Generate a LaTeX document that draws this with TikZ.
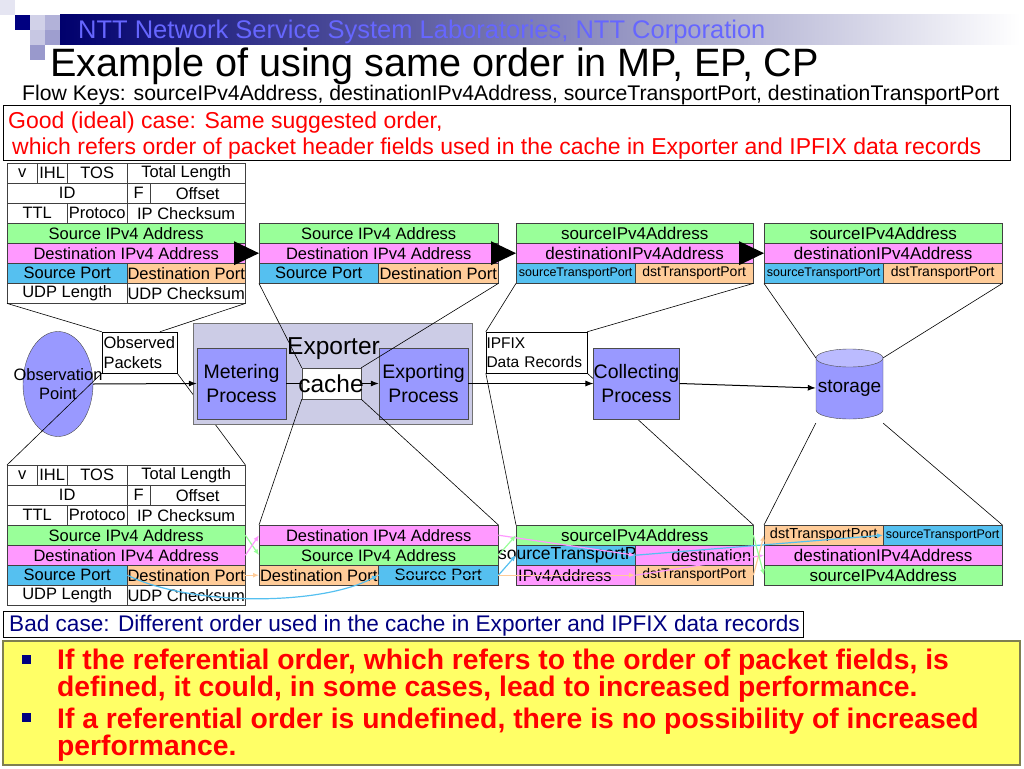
\documentclass[tikz,border=0pt]{standalone}
\usepackage{fontspec}
\setmainfont{Liberation Sans}
\usetikzlibrary{arrows.meta,positioning,calc,backgrounds,shapes.geometric}
\definecolor{grn}{HTML}{99FF99}
\definecolor{pnk}{HTML}{FF99FF}
\definecolor{blu}{HTML}{55C0F0}
\definecolor{org}{HTML}{FFCC99}
\definecolor{proc}{HTML}{9999FF}
\definecolor{procl}{HTML}{BBBBFF}
\definecolor{expbg}{HTML}{CCCCE6}
\definecolor{navy}{HTML}{000080}
\definecolor{ntt}{HTML}{6666FF}
\definecolor{ylw}{HTML}{FFFF66}
\definecolor{ybord}{HTML}{7F7F50}
\newcommand{\fsz}[1]{\fontsize{#1}{\fpeval{1.2*#1}}\selectfont}
\tikzset{
	cell/.style={draw=black!75, anchor=north west, minimum height=20, inner sep=0pt, font=\fsz{16.5}},
	procbox/.style={draw=black!70, fill=proc, align=center, inner sep=0pt, font=\fsz{19.5}},
	lbl/.style={inner sep=0pt, anchor=base west},
	flow/.style={-{Latex[length=8pt,width=6pt]}, line width=1pt},
	fieldmap/.style={-{Latex[length=6pt,width=5pt]}, line width=1.2pt},
	zoomln/.style={line width=0.6pt}
}
\begin{document}
\begin{tikzpicture}[x=1pt, y=-1pt]
	\useasboundingbox (0,0) rectangle (1024,768);
	% header
	\fill[navy!10] (0,0) rectangle (15,15);
	\fill[navy] (15,15) rectangle (30,30);
	\fill[navy!18] (30,15) rectangle (45,30);
	\fill[navy!30] (45,15) rectangle (60,30);
	\fill[navy!22] (30,30) rectangle (45,45);
	\fill[navy!38] (45,30) rectangle (60,45);
	\fill[navy!40] (30,45) rectangle (45,60);
	\shade[left color=navy!85!black, right color=white] (60,15) rectangle (1020,45);
	\node[lbl, text=ntt, font=\fsz{25.5}] (lab) at (78,38) {NTT Network Service System Laboratories, NTT Corporation};
	\node[lbl, font=\fsz{39.6}] (title) at (50,77) {Example of using same order in MP, EP, CP};
	\node[lbl, font=\fsz{21.2}] (keys) at (22,100) {Flow Keys: sourceIPv4Address, destinationIPv4Address, sourceTransportPort, destinationTransportPort};
	\draw (3,105) rectangle (1010,160);
	\node[lbl, text=red, font=\fsz{23}] (good1) at (8,128) {Good (ideal) case: Same suggested order,};
	\node[lbl, text=red, font=\fsz{23}] (good2) at (12,154) {which refers order of packet header fields used in the cache in Exporter and IPFIX data records};
	% packet headers
	\foreach \t/\y in {a/163, b/465}{
		\node[cell, minimum width=30] (v\t) at (7,\y) {v};
		\node[cell, minimum width=30] (ihl\t) at (37,\y) {IHL};
		\node[cell, minimum width=60] (tos\t) at (67,\y) {TOS};
		\node[cell, minimum width=118] (tl\t) at (127,\y) {Total Length};
		\node[cell, minimum width=120] (id\t) at (7,\y+20) {ID};
		\node[cell, minimum width=23] (f\t) at (127,\y+20) {F};
		\node[cell, minimum width=95] (off\t) at (150,\y+20) {Offset};
		\node[cell, minimum width=60] (ttl\t) at (7,\y+40) {TTL};
		\node[cell, minimum width=60] (prot\t) at (67,\y+40) {Protoco};
		\node[cell, minimum width=118] (chk\t) at (127,\y+40) {IP Checksum};
		\node[cell, fill=grn, minimum width=238] (sip\t) at (7,\y+60) {Source IPv4 Address};
		\node[cell, fill=pnk, minimum width=238] (dip\t) at (7,\y+80) {Destination IPv4 Address};
		\node[cell, fill=blu, minimum width=120] (sp\t) at (7,\y+100) {Source Port};
		\node[cell, fill=org, minimum width=118] (dp\t) at (127,\y+100) {Destination Port};
		\node[cell, minimum width=120] (udpl\t) at (7,\y+120) {UDP Length};
		\node[cell, minimum width=118] (udpc\t) at (127,\y+120) {UDP Checksum};
	}
	% good case records
	\node[cell, fill=grn, minimum width=239] (sip2) at (259,223) {Source IPv4 Address};
	\node[cell, fill=pnk, minimum width=239] (dip2) at (259,243) {Destination IPv4 Address};
	\node[cell, fill=blu, minimum width=119] (sp2) at (259,263) {Source Port};
	\node[cell, fill=org, minimum width=120] (dp2) at (378,263) {Destination Port};
	\node[cell, fill=grn, minimum width=237, font=\fsz{17}] (sip3) at (516,223) {sourceIPv4Address};
	\node[cell, fill=pnk, minimum width=237, font=\fsz{17}] (dip3) at (516,243) {destinationIPv4Address};
	\node[cell, fill=blu, minimum width=119, font=\fsz{12.5}] (sp3) at (516,263) {sourceTransportPort};
	\node[cell, fill=org, minimum width=118, font=\fsz{14}] (dp3) at (635,263) {dstTransportPort};
	\node[cell, fill=grn, minimum width=238, font=\fsz{17}] (sip4) at (764,223) {sourceIPv4Address};
	\node[cell, fill=pnk, minimum width=238, font=\fsz{17}] (dip4) at (764,243) {destinationIPv4Address};
	\node[cell, fill=blu, minimum width=119, font=\fsz{12.5}] (sp4) at (764,263) {sourceTransportPort};
	\node[cell, fill=org, minimum width=119, font=\fsz{14}] (dp4) at (883,263) {dstTransportPort};
	\foreach \n in {dip2, dip3, dip4}
		\fill ($(\n.west)+(-25,-12)$) -- (\n.west) -- ($(\n.west)+(-25,12)$) -- cycle;
	% bad case records
	\node[cell, fill=pnk, minimum width=239] (dip2b) at (259,525) {Destination IPv4 Address};
	\node[cell, fill=grn, minimum width=239] (sip2b) at (259,545) {Source IPv4 Address};
	\node[cell, fill=org, minimum width=119] (dp2b) at (259,565) {Destination Port};
	\node[cell, fill=blu, minimum width=120] (sp2b) at (378,565) {Source Port};
	\node[cell, fill=grn, minimum width=237, font=\fsz{17}] (sip3b) at (516,525) {sourceIPv4Address};
	\node[cell, fill=blu, minimum width=119] (stp3b) at (516,545) {};
	\node[lbl, anchor=west, font=\fsz{17.5}] (stptxt) at (498,555) {sourceTransportPort};
	\node[cell, fill=pnk, minimum width=118, text width=114, align=right, font=\fsz{16.5}] (dst3b) at (635,545) {destination};
	\node[cell, fill=pnk, minimum width=119, text width=115, align=left, font=\fsz{16.5}] (ip3b) at (516,565) {IPv4Address};
	\node[cell, fill=org, minimum width=118, font=\fsz{14}] (dp3b) at (635,565) {dstTransportPort};
	\node[cell, fill=org, minimum width=119, font=\fsz{14.5}] (dp4b) at (764,525) {dstTransportPort};
	\node[cell, fill=blu, minimum width=119, font=\fsz{12.5}] (sp4b) at (883,525) {sourceTransportPort};
	\node[cell, fill=pnk, minimum width=238, font=\fsz{17}] (dip4b) at (764,545) {destinationIPv4Address};
	\node[cell, fill=grn, minimum width=238, font=\fsz{17}] (sip4b) at (764,565) {sourceIPv4Address};
	% processes
	\node[draw=black!70, fill=proc, ellipse, minimum width=70, minimum height=105, inner sep=0pt] (op) at (58,384) {};
	\node[font=\fsz{16.5}, align=center, inner sep=0pt] (optxt) at (op.center) {Observation\\Point};
	\node[draw=black!55, fill=expbg, minimum width=279, minimum height=101, inner sep=0pt] (exp) at (332.5,373.5) {};
	\node[procbox, minimum width=89, minimum height=71] (mp) at (241.5,383.5) {Metering\\Process};
	\node[procbox, minimum width=89, minimum height=71] (xp) at (423.5,383.5) {Exporting\\Process};
	\draw[flow] (mp.east) -- (xp.west);
	\node[draw=black!70, fill=white, minimum width=59, minimum height=31, inner sep=0pt] (cache) at (331.5,383.5) {};
	\node[procbox, minimum width=85, minimum height=71] (cp) at (636.5,383.5) {Collecting\\Process};
	\filldraw[draw=black!70, fill=proc] (816,358) -- (816,410) arc[start angle=180, end angle=0, x radius=33.5, y radius=9] -- (883,358) -- cycle;
	\filldraw[draw=black!70, fill=procl] (849.5,358) ellipse[x radius=33.5, y radius=9];
	\node[minimum width=67, minimum height=70, inner sep=0pt, font=\fsz{19}] (stor) at (849.5,388) {storage};
	\draw[flow] (op.east) -- (mp.west);
	\draw[flow] (xp.east) -- (cp.west);
	\draw[flow] (cp.east) -- (stor.west);
	\node[draw, fill=white, minimum height=41, inner sep=1.5pt, text width=72, align=left, font=\fsz{16.5}] (obsp) at (139.5,352.5) {Observed\\Packets};
	\node[draw, fill=white, minimum height=41, inner sep=0.5pt, text width=100, align=left, font=\fsz{15.5}] (ipfx) at (536.5,352.5) {IPFIX\\Data Records};
	% zoom lines
	\begin{scope}[on background layer]
		\draw[zoomln] (obsp.south east) -- (tlb.north east);
		\draw[zoomln] (ipfx.south east) -- (sip3b.north east);
	\end{scope}
	\draw[zoomln] (udpla.south west) -- (obsp.north west);
	\draw[zoomln] (udpca.south east) -- ($(obsp.north west)!0.77!(obsp.north east)$);
	\draw[zoomln] (obsp.south west) -- (vb.north west);
	\draw[zoomln] (sp2.south west) -- (cache.north west);
	\draw[zoomln] (dp2.south east) -- (cache.north east);
	\draw[zoomln] (cache.south west) -- (dip2b.north west);
	\draw[zoomln] (cache.south east) -- (dip2b.north east);
	\draw[zoomln] (sp3.south west) -- (ipfx.north west);
	\draw[zoomln] (dp3.south east) -- (ipfx.north east);
	\draw[zoomln] (ipfx.south west) -- (sip3b.north west);
	\draw[zoomln] ($(stor.north west)+(0,5)$) -- (sp4.south west);
	\draw[zoomln] ($(stor.north east)+(0,5)$) -- (dp4.south east);
	\draw[zoomln] (stor.south west) -- (dp4b.north west);
	\draw[zoomln] (stor.south east) -- (sp4b.north east);
	\node[font=\fsz{24.5}, inner sep=0pt] (cachetxt) at (331,384) {cache};
	\node[lbl, anchor=base, font=\fsz{24.5}] (exptxt) at (333.5,354) {Exporter};
	% field mapping
	\draw[fieldmap, grn] (sipb.east) -- (sip2b.west);
	\draw[fieldmap, pnk] (dipb.east) -- (dip2b.west);
	\draw[fieldmap, org] (dpb.east) -- (dp2b.west);
	\draw[fieldmap, blu] (spb.east) .. controls +(63,31) and +(-57,31) .. (sp2b.west);
	\draw[fieldmap, pnk] (dip2b.east) -- (dst3b.west);
	\draw[fieldmap, grn] (sip2b.east) -- (sip3b.west);
	\draw[fieldmap, blu] (sp2b.west) -- (sp2b.east) -- (stp3b.west);
	\draw[fieldmap, org] (sp2b.east) -- (dp3b.west);
	\draw[fieldmap, blu] (stp3b.east) -- (sp4b.west);
	\draw[fieldmap, pnk] (ip3b.east) -- (dip4b.west);
	\draw[fieldmap, org] (dp3b.east) -- (dp4b.west);
	\draw[fieldmap, grn] (sip3b.east) -- (sip4b.west);
	% notes
	\draw (3,611) rectangle (803,637);
	\node[lbl, text=navy, font=\fsz{22.6}] (bad) at (9,631) {Bad case: Different order used in the cache in Exporter and IPFIX data records};
	\draw[draw=ybord, fill=ylw, line width=2.5pt] (3,641) rectangle (1020,765);
	\node[fill=navy, minimum size=9, inner sep=0pt] (bul1) at (26.5,659) {};
	\node[fill=navy, minimum size=9, inner sep=0pt] (bul2) at (26.5,717) {};
	\node[lbl, text=red, font=\bfseries\fsz{28.3}] (yl1) at (57,669) {If the referential order, which refers to the order of packet fields, is};
	\node[lbl, text=red, font=\bfseries\fsz{28.3}] (yl2) at (57,696) {defined, it could, in some cases, lead to increased performance.};
	\node[lbl, text=red, font=\bfseries\fsz{28.3}] (yl3) at (57,728) {If a referential order is undefined, there is no possibility of increased};
	\node[lbl, text=red, font=\bfseries\fsz{28.3}] (yl4) at (57,755) {performance.};
\end{tikzpicture}
\end{document}
